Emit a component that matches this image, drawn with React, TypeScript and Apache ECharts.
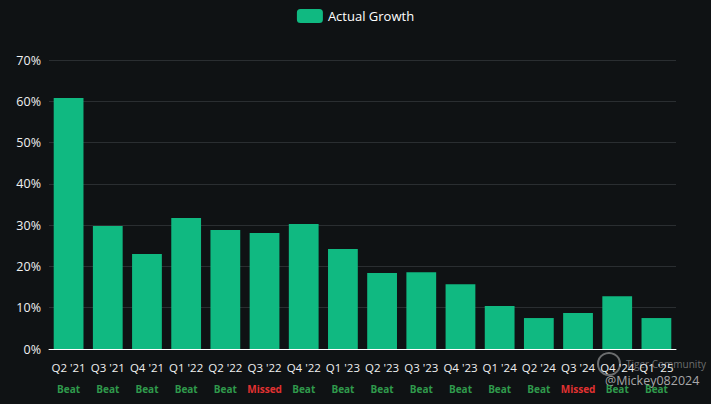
import React, { useEffect, useRef } from "react";
import * as echarts from "echarts";

const quarters = ["Q2 '21", "Q3 '21", "Q4 '21", "Q1 '22", "Q2 '22", "Q3 '22", "Q4 '22", "Q1 '23", "Q2 '23", "Q3 '23", "Q4 '23", "Q1 '24", "Q2 '24", "Q3 '24", "Q4 '24", "Q1 '25"];
const growth = [60.8, 29.8, 23.0, 31.7, 28.8, 28.1, 30.3, 24.2, 18.4, 18.6, 15.7, 10.4, 7.5, 8.7, 12.8, 7.5];
const outcomes = ["Beat", "Beat", "Beat", "Beat", "Beat", "Missed", "Beat", "Beat", "Beat", "Beat", "Beat", "Beat", "Beat", "Missed", "Beat", "Beat"];
const yTicks = [0, 10, 20, 30, 40, 50, 60, 70];

export default function App() {
  const ref = useRef<HTMLDivElement>(null);
  useEffect(() => {
    const chart = echarts.init(ref.current!, null, { renderer: "svg" });
    const font = "'Open Sans', 'Noto Sans', sans-serif";
    chart.setOption({
      animation: false,
      backgroundColor: "#0f1214",
      textStyle: { fontFamily: font },
      legend: {
        top: 4,
        left: "center",
        itemWidth: 26,
        itemHeight: 14,
        itemGap: 4,
        icon: "roundRect",
        textStyle: { color: "#ffffff", fontSize: 13, fontFamily: font },
        data: ["Actual Growth"],
      },
      grid: { left: 49, right: 35, top: 60, bottom: 55 },
      xAxis: {
        type: "category",
        data: quarters,
        axisLine: { lineStyle: { color: "#ffffff" } },
        axisTick: { lineStyle: { color: "#ffffff" } },
        axisLabel: {
          interval: 0,
          formatter: (v: string, i: number) => {
            const o = outcomes[i];
            return `{q|${v}}\n{${o === "Beat" ? "b" : "m"}|${o}}`;
          },
          rich: {
            q: { color: "#f0f0f0", fontSize: 11.5, fontFamily: font, lineHeight: 20 },
            b: { color: "#2f9a4c", fontSize: 10, fontWeight: "bold", fontFamily: font, lineHeight: 24 },
            m: { color: "#e03131", fontSize: 10, fontWeight: "bold", fontFamily: font, lineHeight: 24 },
          },
        },
      },
      yAxis: {
        type: "value",
        min: yTicks[0],
        max: yTicks[yTicks.length - 1],
        interval: 10,
        axisLabel: { color: "#f0f0f0", fontSize: 12.5, formatter: "{value}%", fontFamily: font },
        splitLine: { lineStyle: { color: "#2a2e31" } },
        axisLine: { show: false },
        axisTick: { show: false },
      },
      series: [
        {
          name: "Actual Growth",
          type: "bar",
          data: growth,
          barCategoryGap: "24%",
          itemStyle: { color: "#10b981" },
        },
      ],
      graphic: [
        {
          type: "circle",
          shape: { cx: 609, cy: 364, r: 11 },
          style: { fill: "none", stroke: "rgba(200,200,200,0.5)", lineWidth: 2 },
          silent: true,
        },
        {
          type: "text",
          left: 626,
          top: 359,
          silent: true,
          style: { text: "Tiger Community", fill: "rgba(200,200,200,0.5)", fontSize: 10, fontFamily: font },
        },
        {
          type: "text",
          left: 605,
          top: 374,
          silent: true,
          style: { text: "@Mickey082024", fill: "rgba(220,220,220,0.75)", fontSize: 12.5, fontFamily: font },
        },
      ],
    });
    return () => chart.dispose();
  }, []);
  return <div ref={ref} style={{ width: 711, height: 404, position: "absolute", left: 0, top: 0 }} />;
}
